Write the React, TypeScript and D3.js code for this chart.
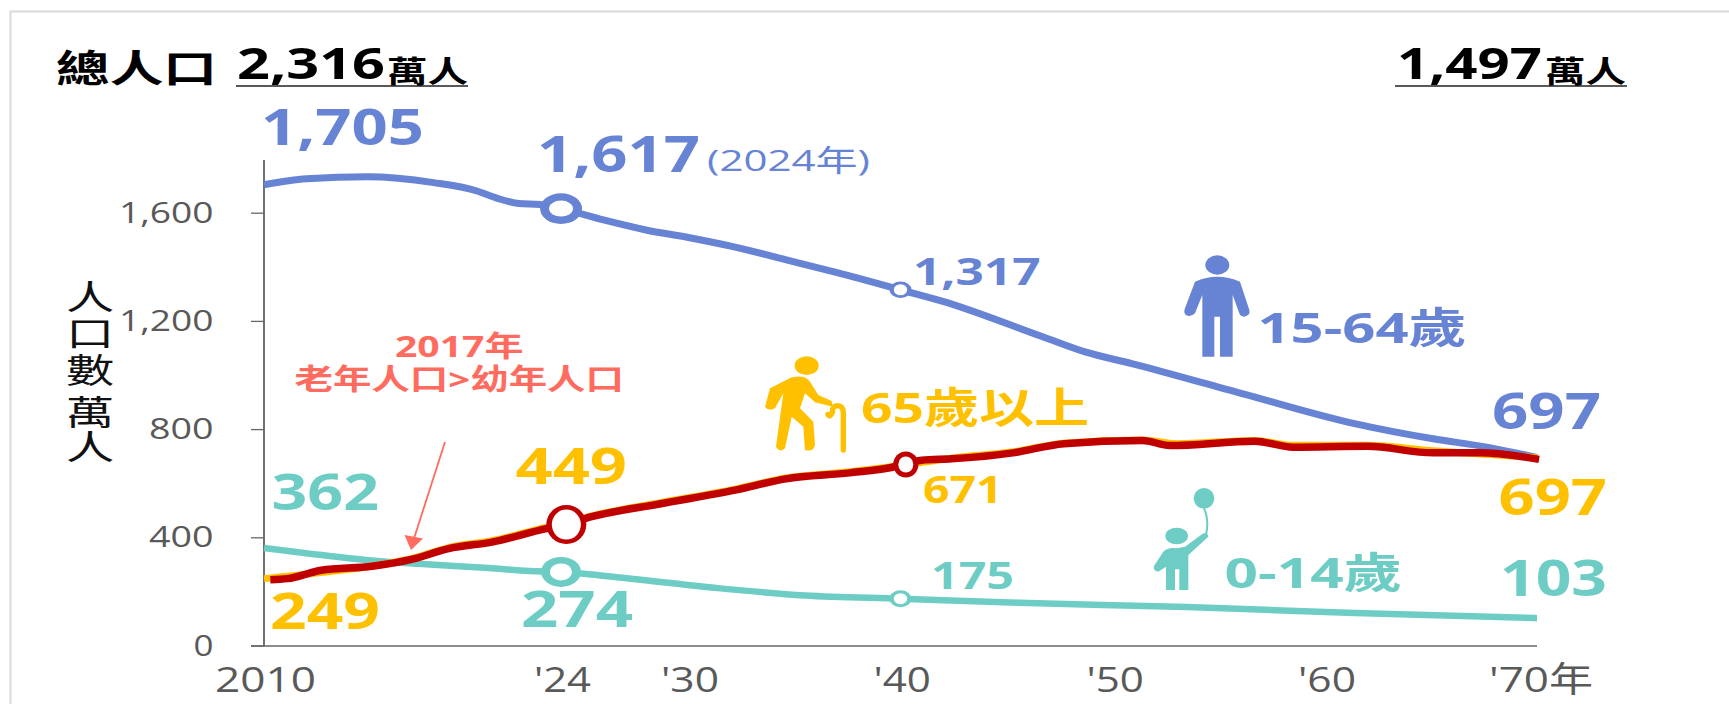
import React from "react";
import * as d3 from "d3";

const workingYears = [2010, 2012, 2014.9, 2018, 2020, 2021, 2022, 2023, 2024, 2026, 2028, 2030, 2032, 2035, 2038, 2040, 2042, 2046.7, 2048.7, 2050.9, 2056.1, 2061.4, 2065.1, 2067.5, 2070];
const workingValues = [1705, 1727, 1735, 1713, 1683, 1655, 1636, 1632, 1617, 1575, 1538, 1510, 1478, 1420, 1360, 1317, 1274, 1143, 1087, 1044, 933, 822, 766, 737, 697];

const elderlyYears = [2010, 2012.7, 2015.1, 2017, 2018.7, 2020.8, 2023.3, 2024.2, 2025.4, 2028.7, 2032.2, 2034.6, 2037.6, 2040.2, 2042.4, 2045.3, 2047.7, 2051.4, 2053, 2056.7, 2058.5, 2062, 2065.1, 2070];
const elderlyValues = [249, 272, 296, 324, 364, 390, 438, 452, 480, 530, 580, 621, 644, 669, 694, 718, 750, 762, 748, 760, 742, 742, 722, 697];

const overlayYears = [2010.3, 2011.1, 2012.7, 2015.1, 2017, 2018.7, 2020.8, 2023.3, 2024.2, 2025.4, 2028.7, 2032.2, 2034.6, 2037.6, 2039.5, 2041, 2042.4, 2045.3, 2047.7, 2051.4, 2052.7, 2056.7, 2058.5, 2062, 2065.1, 2067.3, 2070.1];
const overlayValues = [245, 249, 280, 295, 321, 360, 385, 434, 449, 477, 526, 576, 618, 640, 659, 687, 692, 714, 748, 760, 741, 757, 735, 738, 714, 714, 690];

const childYears = [2010, 2011.9, 2014.9, 2017.3, 2020.6, 2022.5, 2024, 2027.3, 2031.4, 2035.5, 2040, 2045.6, 2053.5, 2061.4, 2070];
const childValues = [362, 344, 317, 304, 288, 277, 274, 249, 214, 187, 175, 160, 144, 122, 103];

const yTicks = [0, 400, 800, 1200, 1600];
const yTickLabels = ["0", "400", "800", "1,200", "1,600"];
const xTickLabels = ["2010", "'24", "'30", "'40", "'50", "'60", "'70年"];
const yTitleChars = ["人", "口", "數", "萬", "人"];

const BLUE = "#6783d4";
const YELLOW = "#ffc000";
const RED = "#c00000";
const TEAL = "#6dcdc5";
const GRAY = "#595959";
const CORAL = "#ff6b5e";
const FONT = '"Open Sans","Noto Sans CJK TC",sans-serif';
const CJK = '"Noto Sans CJK TC",sans-serif';

const x = d3.scaleLinear().domain([2010, 2070]).range([264, 1537]);
const y = d3.scaleLinear().domain([0, 1600]).range([646, 213.2]);

function path(years: number[], values: number[], curve: d3.CurveFactory) {
  return (
    d3
      .line<number>()
      .x((d) => x(d))
      .y((_, i) => y(values[i]))
      .curve(curve)(years) ?? ""
  );
}

function T(props: { x: number; y: number; w: number; size: number; fill: string; bold?: boolean; font?: string; children: string }) {
  return (
    <text
      x={props.x}
      y={props.y}
      textLength={props.w}
      lengthAdjust="spacingAndGlyphs"
      fontSize={props.size}
      fontFamily={props.font ?? FONT}
      fontWeight={props.bold === false ? 400 : 700}
      fill={props.fill}
    >
      {props.children}
    </text>
  );
}

function Marker(props: { year: number; value: number; rx: number; ry: number; irx: number; iry: number; color: string }) {
  const cx = x(props.year);
  const cy = y(props.value);
  return (
    <g>
      <ellipse cx={cx} cy={cy} rx={props.rx} ry={props.ry} fill={props.color} />
      <ellipse cx={cx} cy={cy} rx={props.irx} ry={props.iry} fill="#fff" />
    </g>
  );
}

const xTickPos = [
  [215, 101],
  [534, 57],
  [661, 58],
  [873.5, 57.5],
  [1086.5, 57.5],
  [1298, 58],
  [1489, 104],
];
const yTickPos = [
  [193.5, 20],
  [149, 64.5],
  [149, 64.5],
  [119, 94.5],
  [119, 94.5],
];
const yTitleBase = [310, 346, 383, 425, 460];

export default function App() {
  return (
    <svg
      width={1729}
      height={704}
      viewBox="0 0 1729 704"
      style={{ position: "absolute", left: 0, top: 0, display: "block", background: "#fff" }}
    >
      <path d="M10.5 704V11.5H1729" fill="none" stroke="#d9d9d9" strokeWidth={2} />

      {/* header */}
      <T x={56} y={82} w={161} size={38} fill="#000" font={CJK}>總人口</T>
      <T x={237} y={79} w={148} size={43} fill="#000">2,316</T>
      <T x={387} y={82} w={81} size={30} fill="#000" font={CJK}>萬人</T>
      <line x1={236} x2={468} y1={86} y2={86} stroke="#222" strokeWidth={1.5} />
      <T x={1397} y={79} w={145} size={43} fill="#000">1,497</T>
      <T x={1545} y={82} w={81} size={30} fill="#000" font={CJK}>萬人</T>
      <line x1={1395} x2={1627} y1={86} y2={86} stroke="#222" strokeWidth={1.5} />

      {/* axes */}
      <line x1={264} x2={264} y1={160} y2={646} stroke="#111" strokeWidth={1.2} />
      <line x1={251} x2={1537} y1={646} y2={646} stroke="#666" strokeWidth={1.6} />
      {yTicks.map((t, i) => (
        <g key={t}>
          <line x1={251} x2={264} y1={y(t)} y2={y(t)} stroke="#666" strokeWidth={1.3} />
          <T x={yTickPos[i][0]} y={y(t) + 9.5} w={yTickPos[i][1]} size={29} fill={GRAY} bold={false}>
            {yTickLabels[i]}
          </T>
        </g>
      ))}
      {xTickLabels.map((l, i) => (
        <T key={l} x={xTickPos[i][0]} y={692} w={xTickPos[i][1]} size={35} fill={GRAY} bold={false}>
          {l}
        </T>
      ))}
      <text transform="translate(66 0) scale(1.42 1)" fontSize={34} fontFamily={CJK} fill="#111">
        {yTitleChars.map((c, i) => (
          <tspan key={i} x={0} y={yTitleBase[i]}>
            {c}
          </tspan>
        ))}
      </text>

      {/* series */}
      <path d={path(workingYears, workingValues, d3.curveMonotoneX)} fill="none" stroke={BLUE} strokeWidth={7} />
      <path d={path(childYears, childValues, d3.curveMonotoneX)} fill="none" stroke={TEAL} strokeWidth={6.5} />
      <path d={path(elderlyYears, elderlyValues, d3.curveMonotoneX)} fill="none" stroke={YELLOW} strokeWidth={7} />
      <path
        d={path(overlayYears, overlayValues, d3.curveMonotoneX)}
        fill="none"
        stroke={RED}
        strokeWidth={7.5}
        strokeLinejoin="round"
      />

      <Marker year={2024} value={1617} rx={21} ry={15.3} irx={12} iry={8} color={BLUE} />
      <Marker year={2024} value={274} rx={20} ry={15} irx={11} iry={8.5} color={TEAL} />
      <Marker year={2024.25} value={449} rx={20} ry={19.5} irx={14.5} iry={15} color={RED} />
      <Marker year={2040} value={1317} rx={11} ry={8.3} irx={6.7} iry={5.5} color={BLUE} />
      <Marker year={2040} value={175} rx={11} ry={8.5} irx={6.7} iry={5.5} color={TEAL} />
      <Marker year={2040.25} value={671} rx={12.6} ry={13} irx={7.5} iry={8} color={RED} />

      {/* value labels */}
      <T x={261} y={145} w={163} size={50} fill={BLUE}>1,705</T>
      <T x={537} y={171.5} w={163} size={50} fill={BLUE}>1,617</T>
      <T x={707} y={170.5} w={163} size={30} fill={BLUE} bold={false}>(2024年)</T>
      <T x={913} y={285} w={127.5} size={38} fill={BLUE}>1,317</T>
      <T x={1492} y={428.7} w={109} size={50} fill={BLUE}>697</T>
      <T x={271.5} y={510} w={107.5} size={50} fill={TEAL}>362</T>
      <T x={521} y={627} w={112} size={50} fill={TEAL}>274</T>
      <T x={931} y={588.7} w={83} size={37} fill={TEAL}>175</T>
      <T x={1500} y={596.3} w={107} size={50} fill={TEAL}>103</T>
      <T x={270} y={629.3} w={110} size={50} fill={YELLOW}>249</T>
      <T x={515.5} y={484.3} w={111.5} size={50} fill={YELLOW}>449</T>
      <T x={923} y={502.7} w={79.5} size={37} fill={YELLOW}>671</T>
      <T x={1498.5} y={514.7} w={108.5} size={50} fill={YELLOW}>697</T>

      {/* series names */}
      <T x={1257.5} y={343.3} w={209} size={42} fill={BLUE}>15-64歲</T>
      <T x={861} y={423} w={228} size={42} fill={YELLOW}>65歲以上</T>
      <T x={1224.5} y={588} w={177.5} size={42} fill={TEAL}>0-14歲</T>

      {/* annotation */}
      <T x={395} y={357} w={128.5} size={29} fill={CORAL}>2017年</T>
      <T x={294.5} y={390} w={329.5} size={29} fill={CORAL}>老年人口&gt;幼年人口</T>
      <line x1={445} y1={442} x2={413.5} y2={540} stroke={CORAL} strokeWidth={1.8} />
      <path d="M404.5 535 L423 538.5 L411 550 Z" fill={CORAL} />

      {/* person */}
      <g transform="translate(1170 245) scale(0.3333)" fill={BLUE}>
        <ellipse cx={142} cy={60} rx={36} ry={29} />
        <path d="M75 110 Q142 80 210 110 L238 195 Q242 212 222 215 Q210 214 208 205 L188 150 L188 335 L150 335 L150 215 L133 215 L133 335 L97 335 L97 150 L75 205 Q62 218 47 210 Q40 202 45 190 Z" />
      </g>

      {/* elderly */}
      <g transform="translate(750 345) scale(0.3333)" fill={YELLOW}>
        <ellipse cx={170} cy={62} rx={36} ry={28} />
        <path d="M60 130 L125 97 Q165 88 180 110 L205 150 L245 168 L248 185 L195 172 L165 145 L150 190 L190 230 L195 300 Q190 322 165 315 L160 245 L125 215 L105 310 Q90 325 78 305 L100 145 L75 190 Q55 200 45 185 Z" />
        <path d="M234 208 Q240 220 248 200 Q245 185 262 182 Q280 182 280 205 L280 315" fill="none" stroke={YELLOW} strokeWidth={16} strokeLinecap="round" />
      </g>

      {/* child */}
      <g transform="translate(1140 480) scale(0.3333)" fill={TEAL}>
        <ellipse cx={192} cy={55} rx={31} ry={31} />
        <path d="M192 85 Q208 120 198 165" fill="none" stroke={TEAL} strokeWidth={6} />
        <ellipse cx={110} cy={168} rx={34} ry={25} />
        <path d="M205 170 L145 225 L145 330 L118 330 L118 268 L105 268 L105 330 L78 330 L78 260 L55 275 Q38 272 42 258 L70 215 Q85 200 110 205 L135 200 L190 160 Q205 158 205 170 Z" />
      </g>
    </svg>
  );
}
